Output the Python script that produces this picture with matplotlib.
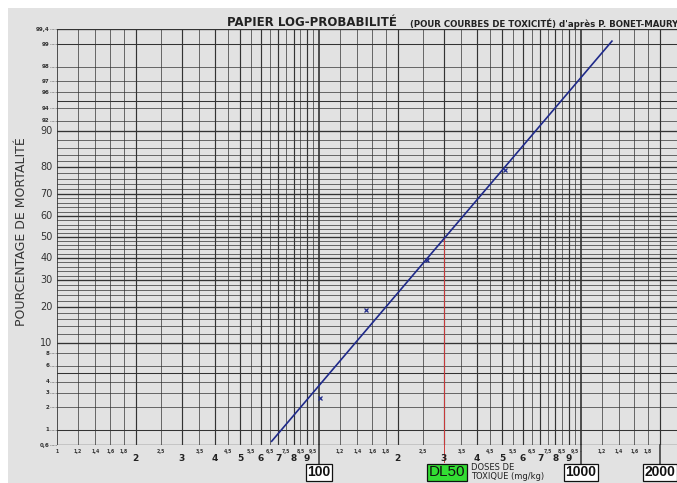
# -*- coding: utf-8 -*-
"""
Papier log-probabilite : courbe de toxicite et DL50
"""
import matplotlib
matplotlib.use("Agg")
import matplotlib.pyplot as plt
from matplotlib.patches import Rectangle
from statistics import NormalDist

# Donnees
doses_obs = [101, 151, 258, 514]          # mg/kg
mortalite_obs = [2.6, 19, 39, 79]         # %
doses_droite = [66, 1315]                 # extremites de la droite ajustee
mortalite_droite = [0.68, 99.1]
dl50 = 300

# Echelle des pourcentages (ordonnees)
pct_grands = [10, 20, 30, 40, 50, 60, 70, 80, 90]
pct_petits = [0.6, 1, 2, 3, 4, 6, 8, 92, 94, 96, 97, 98, 99, 99.4]
pct_lignes = [0.6, 1, 2, 3, 4, 5, 6, 8] + list(range(10, 91, 2)) + [92, 94, 95, 96, 97, 98, 99, 99.4]

# Echelle logarithmique des doses (abscisses)
decades = [10, 100, 1000]
mantisses = [1, 1.2, 1.4, 1.6, 1.8, 2, 2.5, 3, 3.5, 4, 4.5, 5, 5.5, 6, 6.5, 7, 7.5, 8, 8.5, 9, 9.5]
petits_labels = ["1", "1,2", "1,4", "1,6", "1,8", "", "2,5", "", "3,5", "", "4,5", "",
                 "5,5", "", "6,5", "", "7,5", "", "8,5", "", "9,5"]
gros_chiffres = [2, 3, 4, 5, 6, 7, 8, 9]
doses_encadrees = [100, 1000, 2000]

nd = NormalDist()


def probit(valeurs):
    """pourcentage -> variable normale reduite"""
    return [nd.inv_cdf(v / 100.0) for v in valeurs]


fig = plt.figure(figsize=(6.77, 4.83), dpi=100, facecolor="white")
# feuille scannee grise
fig.add_artist(Rectangle((8 / 677, 0), 1, 1 - 8 / 483, transform=fig.transFigure,
                         facecolor="#e2e2e2", edgecolor="none", zorder=-5))

ax = fig.add_axes([57 / 677, 38 / 483, 620 / 677, 416 / 483])
ax.set_zorder(2)
ax.set_facecolor("#e2e2e2")
ax.set_xscale("log")
ax.set_xlim(10, 2330)
ymin, ymax = probit([0.6, 99.4])
ax.set_ylim(ymin, ymax)
for s in ax.spines.values():
    s.set_visible(False)
ax.set_xticks([])
ax.set_yticks([])
ax.minorticks_off()

grille = "#333333"

# lignes horizontales
for p in pct_lignes:
    z = probit([p])[0]
    if p in pct_grands or p in (0.6, 99.4):
        lw = 0.95
    elif p in (1, 5, 95, 99):
        lw = 0.75
    else:
        lw = 0.5
    ax.axhline(z, color=grille, lw=lw, zorder=1)

# lignes verticales
for d in decades:
    for m in mantisses:
        x = d * m
        if x > 2330:
            continue
        if m == 1:
            lw = 1.2
        elif m == int(m):
            lw = 0.85
        else:
            lw = 0.5
        ax.axvline(x, color=grille, lw=lw, zorder=1)

# graduations des abscisses
xtr = ax.get_xaxis_transform()
for i, d in enumerate(decades):
    for m, lab in zip(mantisses, petits_labels):
        x = d * m
        if x > 2330:
            continue
        if m == 1 and i > 0:
            lab = "" if i == 1 else "·"
        if lab:
            ax.text(x, -0.009, lab, transform=xtr, ha="center", va="top",
                    fontsize=3.3, fontweight="bold", color="#333333")
    if i < 2:
        for c in gros_chiffres:
            ax.text(d * c, -0.021, str(c), transform=xtr, ha="center", va="top",
                    fontsize=6.5, fontweight="bold", color="#222222")

# doses encadrees
for d in doses_encadrees:
    ax.plot([d, d], [0, -0.045], transform=xtr, color=grille, lw=1.1, clip_on=False)
    ax.text(d, -0.066, f"{d}", transform=xtr, ha="center", va="center",
            fontsize=10, fontweight="bold", family="Liberation Sans", color="#111111",
            bbox=dict(boxstyle="square,pad=0.12", facecolor="white", edgecolor="#111111", lw=0.9))

# graduations des ordonnees
ytr = ax.get_yaxis_transform()
for p in pct_grands:
    ax.text(-0.007, probit([p])[0], str(p), transform=ytr, ha="right", va="center",
            fontsize=7, color="#333333")
for p in pct_petits:
    lab = f"{p:g}".replace(".", ",")
    ax.text(-0.012, probit([p])[0], lab, transform=ytr, ha="right", va="center",
            fontsize=4, fontweight="bold", color="#333333")
    ax.plot([-0.011, 0], [probit([p])[0]] * 2, transform=ytr, color="#555555",
            lw=0.5, ls=(0, (1, 1)), clip_on=False)

# droite de toxicite et points observes
ax.plot(doses_droite, probit(mortalite_droite), color="#1f2a8a", lw=1.2, zorder=4)
ax.plot(doses_obs, probit(mortalite_obs), ls="none", marker="x", ms=3.5,
        mew=0.9, color="#1f2a8a", zorder=5)

# DL50
ax.plot([dl50, dl50], [0, ymin], color="#cc3a3a", lw=0.7, zorder=3)
ax.plot([dl50, dl50], [0, -0.04], transform=xtr, color="#cc3a3a", lw=0.7, clip_on=False)
ax.text(dl50 * 1.03, -0.066, "DL50", transform=xtr, ha="center", va="center",
        fontsize=11, family="Liberation Sans", color="#111111",
        bbox=dict(boxstyle="square,pad=0.1", facecolor="#33dd33", edgecolor="#111111", lw=0.9))
ax.text(dl50 * 1.27, -0.064, "DOSES DE\nTOXIQUE (mg/kg)", transform=xtr, ha="left",
        va="center", fontsize=6, color="#222222", linespacing=1.0)

# titres
fig.text(312 / 677, 1 - 22 / 483, "PAPIER LOG-PROBABILITÉ", ha="center", va="center",
         fontsize=8.5, fontweight="semibold", color="#222222")
fig.text(410 / 677, 1 - 24 / 483, "(POUR COURBES DE TOXICITÉ) d'après P. BONET-MAURY",
         ha="left", va="center", fontsize=6.2, fontweight="bold", color="#222222")
fig.text(22 / 677, 1 - 232 / 483, "POURCENTAGE DE MORTALITÉ", rotation=90,
         ha="center", va="center", fontsize=9, color="#333333")

fig.savefig("out.png", dpi=100, facecolor=fig.get_facecolor())
